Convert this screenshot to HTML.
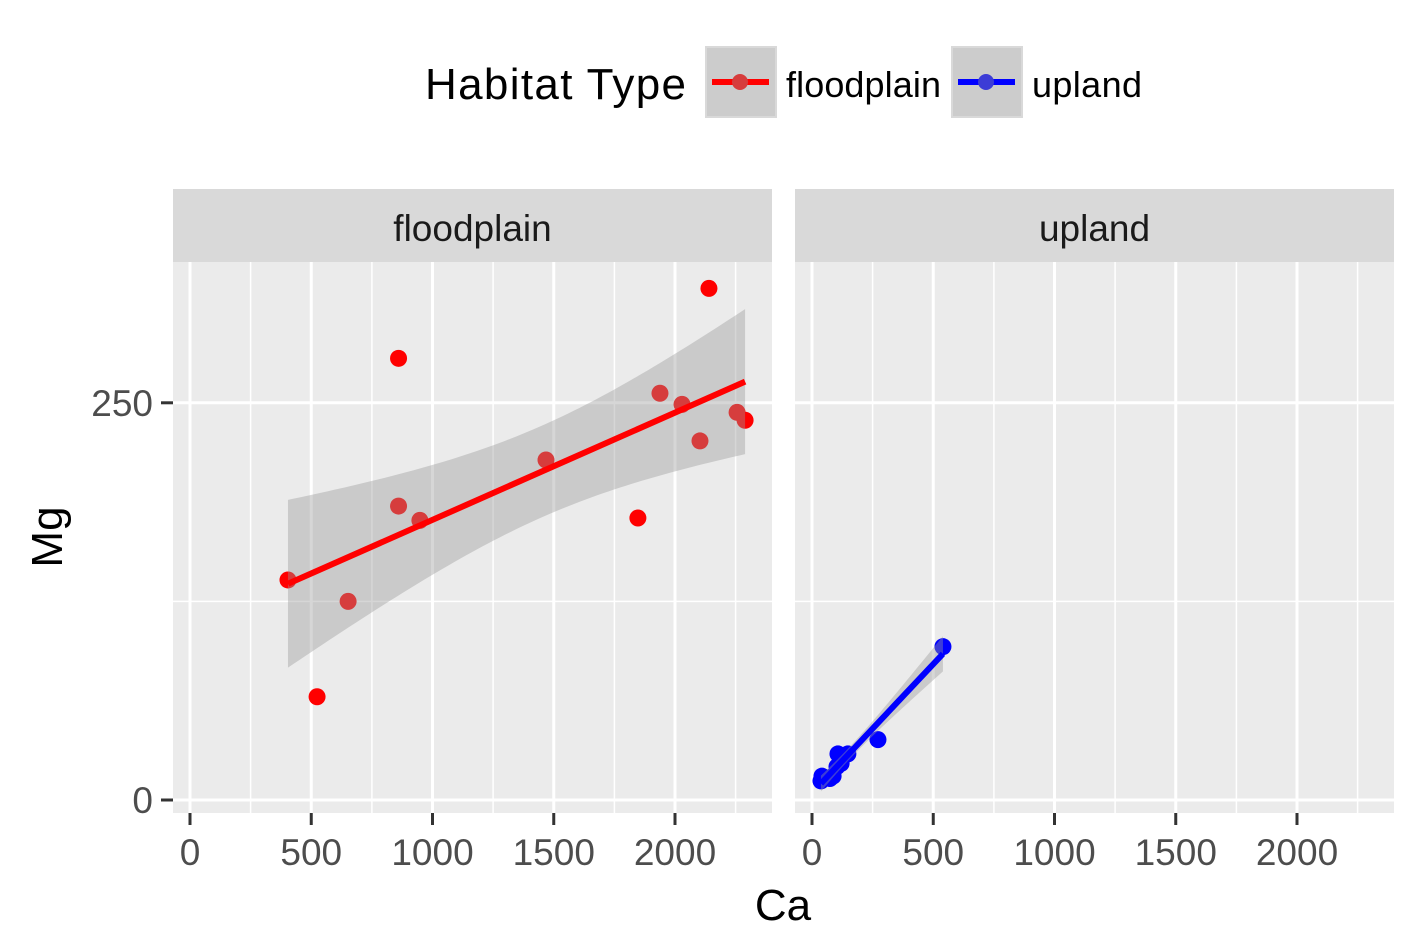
<!DOCTYPE html>
<html><head><meta charset="utf-8">
<style>
html,body{margin:0;padding:0;background:#fff;}
svg{display:block;font-family:"Liberation Sans",Arial,sans-serif;}
</style></head>
<body>
<svg id="chart" width="1417" height="944" viewBox="0 0 1417 944">
  <g>
    <text x="425" y="99" font-size="44" fill="#000" textLength="261">Habitat Type</text>
    <g>
      <rect x="706" y="47" width="70" height="70" fill="#cccccc" stroke="#d9d9d9" stroke-width="2"/>
      <line x1="712" y1="82" x2="769" y2="82" stroke="#ff0000" stroke-width="6"/>
      <circle cx="740" cy="82" r="8" fill="#d63c3c"/>
      <text x="786" y="97" font-size="36" fill="#000" textLength="155">floodplain</text>
    </g>
    <g>
      <rect x="952" y="47" width="70" height="70" fill="#cccccc" stroke="#d9d9d9" stroke-width="2"/>
      <line x1="958" y1="82" x2="1015" y2="82" stroke="#0000ff" stroke-width="6"/>
      <circle cx="986" cy="82" r="8" fill="#3c3cd6"/>
      <text x="1032" y="97" font-size="36" fill="#000" textLength="110">upland</text>
    </g>
  </g>
  <g id="panels"></g>
  <text x="783" y="920" font-size="44" text-anchor="middle" fill="#000">Ca</text>
  <text transform="translate(62,537) rotate(-90)" font-size="44" text-anchor="middle" fill="#000">Mg</text>
</svg>
<script>
const panelNames = ["floodplain", "upland"];
const floodCa = [404, 524, 652, 860, 860, 948, 1468, 1847, 1938, 2029, 2103, 2140, 2256, 2289];
const floodMg = [138.5, 65, 125, 278, 185, 176, 214, 177.5, 256, 249, 226, 322, 244, 239];
const uplandCa = [37, 41, 74, 87, 103, 120, 107, 148, 272, 540];
const uplandMg = [12, 15, 13.5, 15, 21, 23, 29, 29, 38, 96.5];
const xTicks = [0, 500, 1000, 1500, 2000];
const yTicks = [0, 250];
const yMinor = [125];
const xMinor = [250, 750, 1250, 1750, 2250];

const NS = "http://www.w3.org/2000/svg";
const root = document.getElementById("panels");
const panelLeft = [173, 795], panelW = 599, plotTop = 262, plotBottom = 813;
const xs = (p, v) => panelLeft[p] + 17 + v * 0.2425;
const ys = v => 800 - v * 1.5888;
function mk(tag, attrs, parent) {
  const e = document.createElementNS(NS, tag);
  for (const k in attrs) e.setAttribute(k, attrs[k]);
  parent.appendChild(e);
  return e;
}
const series = [[floodCa, floodMg, "#ff0000"], [uplandCa, uplandMg, "#0000ff"]];
panelNames.forEach((name, p) => {
  const g = mk("g", {}, root);
  
  
  const L = panelLeft[p];
  const strip = mk("rect", {x: L, y: 189, width: panelW, height: 73, fill: "#d9d9d9"}, g);
  
  
  const st = mk("text", {x: L + panelW / 2, y: 241, "font-size": 37, "text-anchor": "middle", fill: "#1a1a1a"}, g);
  st.textContent = name;
  
  
  const bg = mk("rect", {x: L, y: plotTop, width: panelW, height: plotBottom - plotTop, fill: "#ebebeb"}, g);
  
  
  xMinor.forEach(v => mk("line", {x1: xs(p, v), x2: xs(p, v), y1: plotTop, y2: plotBottom, stroke: "#fff", "stroke-width": 1.5}, g));
  yMinor.forEach(v => mk("line", {x1: L, x2: L + panelW, y1: ys(v), y2: ys(v), stroke: "#fff", "stroke-width": 1.5}, g));
  xTicks.forEach(v => mk("line", {x1: xs(p, v), x2: xs(p, v), y1: plotTop, y2: plotBottom, stroke: "#fff", "stroke-width": 3}, g));
  yTicks.forEach(v => mk("line", {x1: L, x2: L + panelW, y1: ys(v), y2: ys(v), stroke: "#fff", "stroke-width": 3}, g));
  xTicks.forEach(v => {
    mk("line", {x1: xs(p, v), x2: xs(p, v), y1: plotBottom, y2: plotBottom + 12, stroke: "#333", "stroke-width": 3}, g);
    const t = mk("text", {x: xs(p, v), y: 865, "font-size": 37, "text-anchor": "middle", fill: "#4d4d4d"}, g);
    t.textContent = v;
    
    
  });
  if (p === 0) yTicks.forEach(v => {
    mk("line", {x1: L - 12, x2: L, y1: ys(v), y2: ys(v), stroke: "#333", "stroke-width": 3}, g);
    const t = mk("text", {x: L - 20, y: ys(v) + 13, "font-size": 37, "text-anchor": "end", fill: "#4d4d4d"}, g);
    t.textContent = v;
    
    
  });
  const [X, Y, col] = series[p];
  X.forEach((x, i) => {
    const c = mk("circle", {cx: xs(p, x), cy: ys(Y[i]), r: 8.5, fill: col}, g);
    
    
  });
  const n = X.length, mx = X.reduce((a, b) => a + b) / n, my = Y.reduce((a, b) => a + b) / n;
  let sxx = 0, sxy = 0;
  X.forEach((x, i) => { sxx += (x - mx) ** 2; sxy += (x - mx) * (Y[i] - my); });
  const b = sxy / sxx, a = my - b * mx;
  let sse = 0; X.forEach((x, i) => sse += (Y[i] - a - b * x) ** 2);
  const s = Math.sqrt(sse / (n - 2));
  const tq = {12: 2.179, 8: 2.306}[n - 2] || 2.2;
  const x0 = Math.min(...X), x1 = Math.max(...X);
  const up = [], lo = [];
  for (let k = 0; k <= 80; k++) {
    const x = x0 + (x1 - x0) * k / 80, f = a + b * x;
    const se = s * Math.sqrt(1 / n + (x - mx) ** 2 / sxx);
    up.push(xs(p, x) + "," + ys(f + tq * se));
    lo.unshift(xs(p, x) + "," + ys(f - tq * se));
  }
  const band = mk("polygon", {points: up.concat(lo).join(" "), fill: "#999999", "fill-opacity": 0.4}, g);
  
  
  const ln = mk("line", {x1: xs(p, x0), y1: ys(a + b * x0), x2: xs(p, x1), y2: ys(a + b * x1), stroke: col, "stroke-width": 6}, g);
  
  
});
</script>
</body></html>
